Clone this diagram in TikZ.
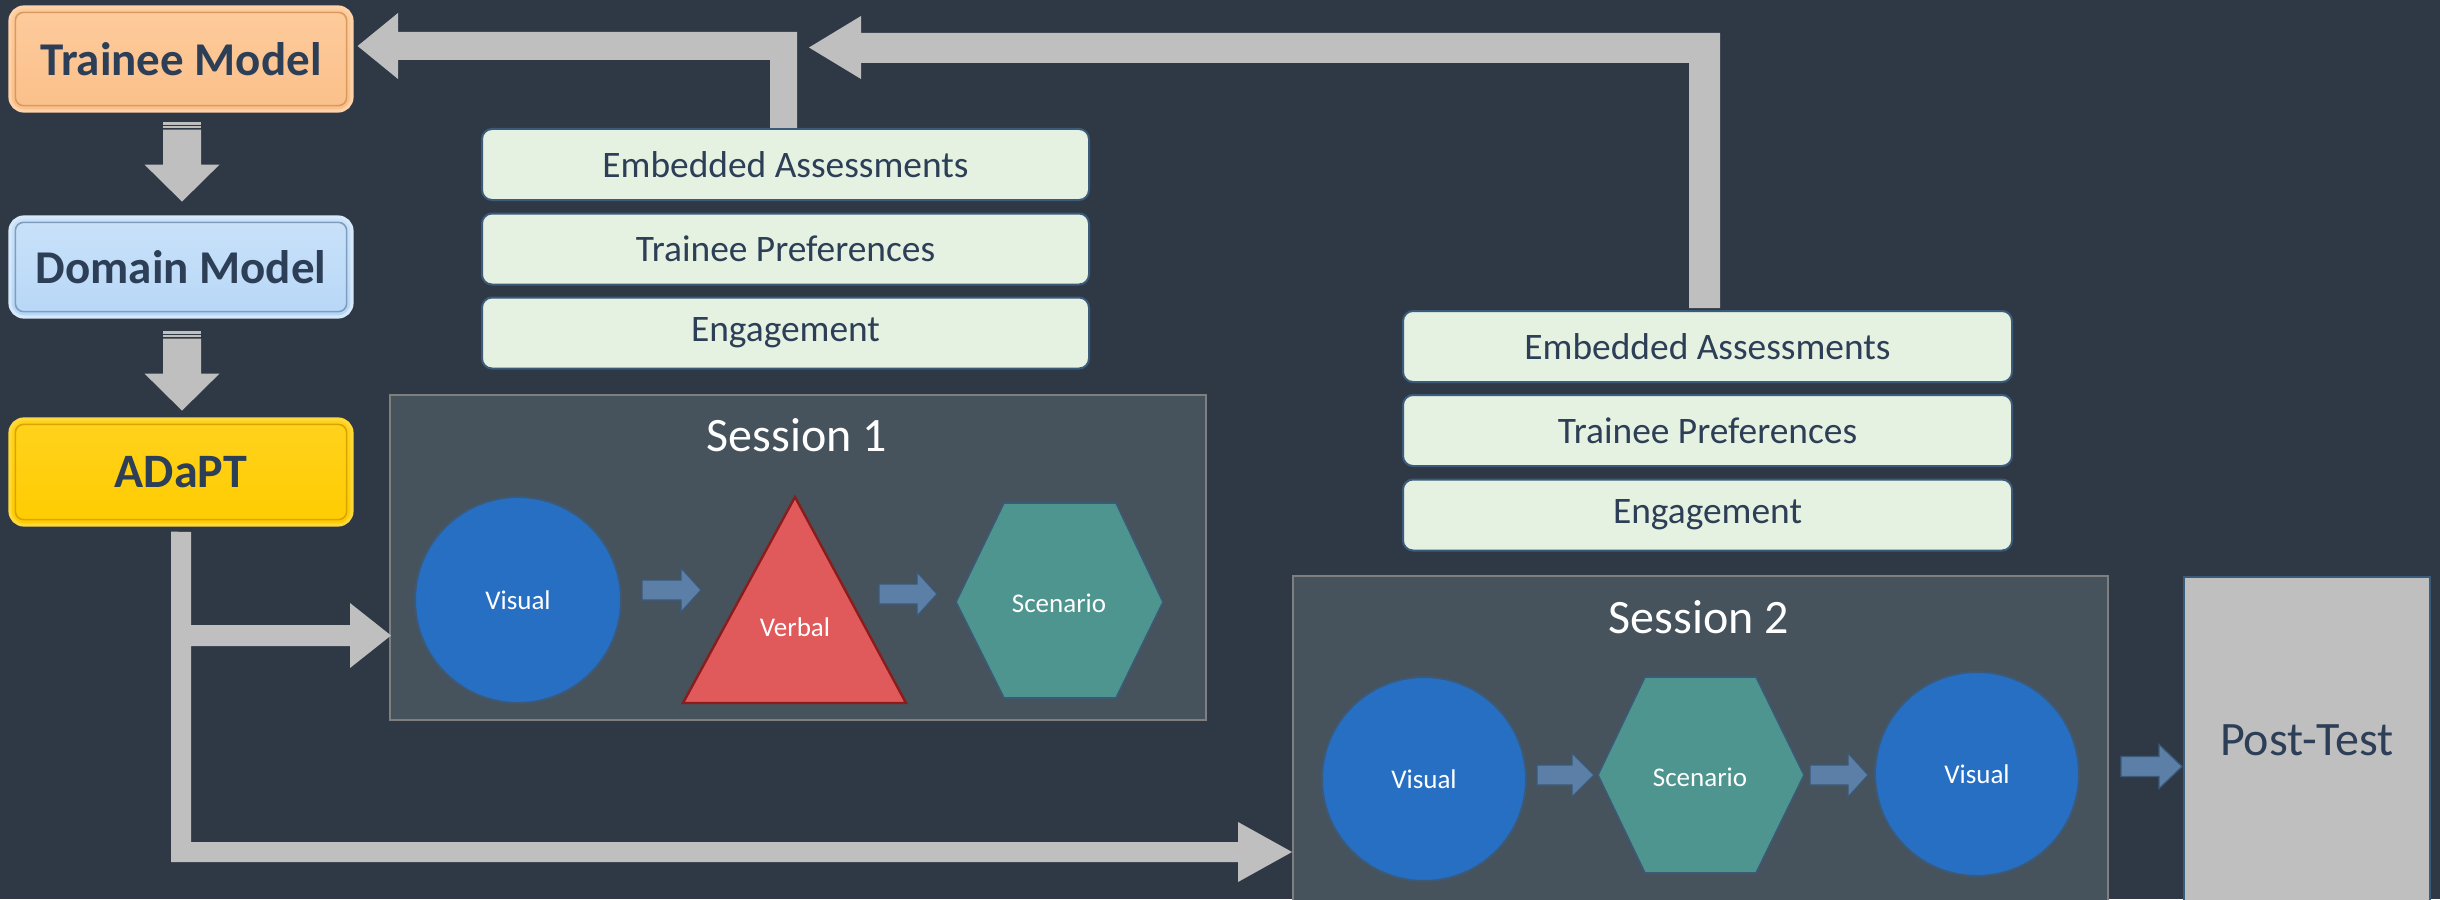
\documentclass[tikz,border=0pt]{standalone}
\usepackage{fontspec}
\setmainfont{Carlito}
\usetikzlibrary{calc}
\definecolor{bg}{HTML}{2F3945}
\definecolor{navy}{HTML}{2D3E57}
\definecolor{arrgray}{HTML}{BFBFBF}
\definecolor{orfill}{HTML}{FBC08A}
\definecolor{orline}{HTML}{D99A5E}
\definecolor{orrim}{HTML}{FFD2A8}
\definecolor{blfill}{HTML}{B7D7F7}
\definecolor{blline}{HTML}{7F9DBD}
\definecolor{blrim}{HTML}{D6E9FB}
\definecolor{ylfill}{HTML}{FFCC00}
\definecolor{ylline}{HTML}{D9A300}
\definecolor{ylrim}{HTML}{FFD83A}
\definecolor{grfill}{HTML}{E5F1E1}
\definecolor{grline}{HTML}{3B5B7B}
\definecolor{sessfill}{HTML}{46525C}
\definecolor{sessline}{HTML}{7F7F7F}
\definecolor{visblue}{HTML}{276FC3}
\definecolor{shline}{HTML}{3C5A78}
\definecolor{verbred}{HTML}{E05A5B}
\definecolor{verbline}{HTML}{8B1C1C}
\definecolor{teal}{HTML}{4E958F}
\definecolor{sarrfill}{HTML}{5B7FA6}
\definecolor{postfill}{HTML}{BFBFBF}
\tikzset{
  titlebox/.style={rounded corners=7pt, minimum width=171pt, inner sep=0pt,
    text=navy, font=\fontsize{23.5pt}{28pt}\selectfont\bfseries, line width=1.6pt},
  greenbox/.style={rounded corners=5pt, minimum height=35.5pt, inner sep=0pt,
    fill=grfill, draw=grline, line width=1pt, text=navy,
    font=\fontsize{18.7pt}{22pt}\selectfont},
  sessbox/.style={fill=sessfill, draw=sessline, line width=1pt, inner sep=0pt},
  sesstitle/.style={text=white, font=\fontsize{24pt}{29pt}\selectfont, inner sep=0pt},
  shlabel/.style={text=white, font=\fontsize{13.5pt}{16pt}\selectfont, inner sep=0pt},
  viscircle/.style={circle, minimum size=102pt, fill=visblue, draw=shline, line width=1pt, inner sep=0pt},
  sarrst/.style={fill=sarrfill, draw=shline, line width=0.6pt},
  pics/downarr/.style={code={
    \fill[arrgray] (-19,0) rectangle (19,3);
    \fill[arrgray] (-19,4.5) rectangle (19,6.5);
    \fill[arrgray] (-19,8) -- (19,8) -- (19,43) -- (37.5,43) -- (0,80) -- (-37.5,43) -- (-19,43) -- cycle;
  }}
}
\newcommand\sarr[4]{%
  \filldraw[sarrst] (#1,#2-10) -- (#1+#3-#4,#2-10) -- (#1+#3-#4,#2-22) -- (#1+#3,#2)
    -- (#1+#3-#4,#2+22) -- (#1+#3-#4,#2+10) -- (#1,#2+10) -- cycle;}
\begin{document}
\begin{tikzpicture}[x=0.5pt,y=-0.5pt]
\useasboundingbox (0,0) rectangle (2440,899);
\fill[bg] (0,0) rectangle (2440,899);

% ---- left column boxes
\node[titlebox, minimum height=52pt, draw=orrim, top color=orrim!60!orfill, bottom color=orfill] (tm) at (181,59) {Trainee Model};
\draw[rounded corners=4pt, draw=orline, line width=0.8pt] ($(tm.south west)+(7,-7)$) rectangle ($(tm.north east)+(-7,7)$);
\node[titlebox, minimum height=50pt, draw=blrim, top color=blrim!60!blfill, bottom color=blfill] (dm) at (181,267) {Domain Model};
\draw[rounded corners=4pt, draw=blline, line width=0.8pt] ($(dm.south west)+(7,-7)$) rectangle ($(dm.north east)+(-7,7)$);
\node[titlebox, minimum height=53pt, draw=ylrim, top color=ylrim!50!ylfill, bottom color=ylfill, font=\fontsize{24pt}{28pt}\selectfont\bfseries] (ad) at (181,472) {ADaPT};
\draw[rounded corners=4pt, draw=ylline, line width=0.8pt] ($(ad.south west)+(7,-7)$) rectangle ($(ad.north east)+(-7,7)$);

% down arrows between title boxes
\coordinate (d1) at ($(tm.south)+(1,9)$);
\coordinate (d2) at ($(dm.south)+(1,12)$);
\pic at (d1) {downarr};
\pic at (d2) {downarr};

% ---- feedback boxes
\node[greenbox, minimum width=303.5pt] (ea1) at (785.5,164.5) {Embedded Assessments};
\node[greenbox, minimum width=303.5pt] (tp1) at (785.5,249) {Trainee Preferences};
\node[greenbox, minimum width=303.5pt] (en1) at (785.5,333) {Engagement};
\node[greenbox, minimum width=304.5pt] (ea2) at (1707.5,346.5) {Embedded Assessments};
\node[greenbox, minimum width=304.5pt] (tp2) at (1707.5,430.5) {Trainee Preferences};
\node[greenbox, minimum width=304.5pt] (en2) at (1707.5,515) {Engagement};

% ---- feedback arrows
\coordinate (tipA) at ($(tm.east)+(4,-13)$);
\fill[arrgray] (tipA) -- (398,13) -- (398,32) -- (797,32) -- (797,128) -- (770,128)
  -- (770,60) -- (398,60) -- (398,79) -- cycle;
\coordinate (tipB) at (809,47.5);
\fill[arrgray] (tipB) -- (861,16) -- (861,33) -- (1720,33) -- ($(ea2.north)+(12.5,-2)$)
  -- ($(ea2.north)+(-18.5,-2)$) -- (1689,63) -- (861,63) -- (861,79) -- cycle;

% ---- sessions
\node[sessbox, minimum width=408pt, minimum height=162.5pt] (s1) at (798,557.5) {};
\node[sesstitle] (s1t) at (797,435) {Session 1};
\node[sessbox, minimum width=407.5pt, minimum height=167pt] (s2) at (1700.5,743) {};
\node[sesstitle] (s2t) at (1699,617) {Session 2};
\node[fill=postfill, draw=grline, line width=0.8pt, minimum width=123pt, minimum height=166.5pt,
  inner sep=0pt, text=navy, font=\fontsize{24pt}{28pt}\selectfont] (pt) at (2307,743.5) {\raisebox{3pt}{Post-Test}};

% ---- ADaPT connector
\fill[arrgray] ($(ad.south)+(-10,5)$) -- (191,532) -- (191,625) -- (350,625) -- (350,603)
  -- ($(s1.west)+(2,78)$) -- (350,668) -- (350,646) -- (191,646) -- (191,842)
  -- (1238,842) -- (1238,822) -- ($(s2.west)+(0,109)$) -- (1238,882) -- (1238,862)
  -- (171,862) -- cycle;

% ---- session 1 content
\node[viscircle, minimum size=103pt] (s1v) at (518,600) {};
\node[shlabel] at (s1v) {Visual};
\sarr{642}{590}{59}{20}
\filldraw[fill=verbred, draw=verbline, line width=1.2pt] (795,497) -- (906,703) -- (683,703) -- cycle;
\node[shlabel] (s1b) at (795,627) {Verbal};
\sarr{879}{594}{58}{20}
\filldraw[fill=teal, draw=shline, line width=0.8pt] (956,602) -- (1004,503) -- (1116,503) -- (1163,602)
  -- (1116,698) -- (1004,698) -- cycle;
\node[shlabel] (s1s) at (1059,603) {Scenario};

% ---- session 2 content
\node[viscircle] (s2v) at (1424,779) {};
\node[shlabel] at (s2v) {Visual};
\sarr{1537}{775}{57}{22}
\filldraw[fill=teal, draw=shline, line width=0.8pt] (1598,775) -- (1645,677) -- (1756,677) -- (1804,775)
  -- (1756,873) -- (1645,873) -- cycle;
\node[shlabel] (s2s) at (1700,777) {Scenario};
\sarr{1810}{775}{58}{20}
\node[viscircle] (s2w) at (1977,774) {};
\node[shlabel] at (s2w) {Visual};
\sarr{2121}{766.5}{61}{23}
\end{tikzpicture}
\end{document}
